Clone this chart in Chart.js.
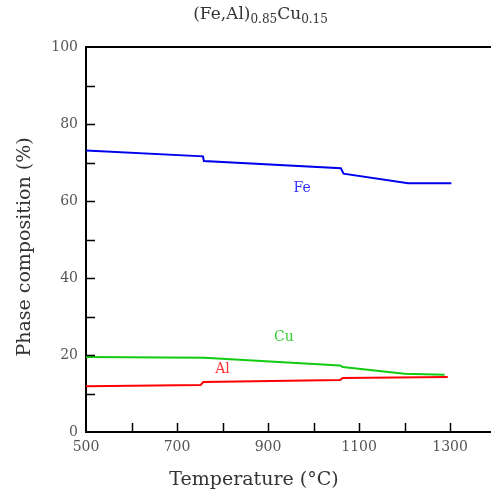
<!DOCTYPE html>
<html>
<head>
<meta charset="utf-8">
<script src="https://cdn.jsdelivr.net/npm/chart.js@4.4.0/dist/chart.umd.min.js"></script>
<style>
  html, body { margin: 0; padding: 0; background: #fff; }
  #wrap { position: relative; width: 491px; height: 492px; }
  #title {
    position: absolute; left: 0; top: 3px; width: 521px; text-align: center;
    font-family: "DejaVu Serif", serif; font-size: 17px; color: #333;
  }
  #title sub { font-size: 12px; vertical-align: -4px; }
  canvas { position: absolute; left: 0; top: 0; }
</style>
</head>
<body>
<div id="wrap">
  <canvas id="chart" width="491" height="492"></canvas>
  <div id="title">(Fe,Al)<sub>0.85</sub>Cu<sub>0.15</sub></div>
</div>
<script>
// Donnees (temperature en degC, composition en %)
const feTemps = [500, 757, 759, 1060, 1066, 1208, 1303];
const feValues = [73.1, 71.6, 70.4, 68.5, 67.1, 64.6, 64.6];

const cuTemps = [500, 760, 1058, 1064, 1200, 1288];
const cuValues = [19.5, 19.3, 17.3, 16.9, 15.1, 14.9];

const alTemps = [500, 752, 758, 1058, 1064, 1295];
const alValues = [11.9, 12.2, 13.0, 13.5, 14.0, 14.3];

const xTickLabels = [500, 700, 900, 1100, 1300];
const yTickLabels = [0, 20, 40, 60, 80, 100];

// etiquettes des courbes, en coordonnees de donnees
const seriesNames = ['Fe', 'Cu', 'Al'];
const labelTemps = [975, 935, 800];
const labelValues = [63.3, 24.6, 16.3];
const seriesColors = ['#0000ee', '#11cc11', '#ff0000'];
const labelColors = ['#3333ff', '#33cc33', '#ff3333'];

function toPoints(xs, ys) {
  return xs.map((x, i) => ({ x: x, y: ys[i] }));
}

const FONT = '"DejaVu Serif", serif';

// ticks vers l'interieur + cadre du haut + noms des courbes + titres d'axes
const decorPlugin = {
  id: 'decor',
  afterDraw(chart) {
    const c = chart.ctx;
    const xs = chart.scales.x, ys = chart.scales.y;
    const area = chart.chartArea;
    c.save();
    c.strokeStyle = '#000';
    c.lineWidth = 1.5;
    c.beginPath();
    for (let v = 600; v <= 1390; v += 100) {
      const px = Math.round(xs.getPixelForValue(v)) + 0.5;
      c.moveTo(px, area.bottom);
      c.lineTo(px, area.bottom - 9);
    }
    for (let v = 10; v < 100; v += 10) {
      const py = Math.round(ys.getPixelForValue(v)) + 0.5;
      c.moveTo(area.left, py);
      c.lineTo(area.left + 9, py);
    }
    c.stroke();
    c.lineWidth = 2;
    c.beginPath();
    c.moveTo(area.left, area.top);
    c.lineTo(area.right, area.top);
    c.stroke();

    c.font = '14px ' + FONT;
    c.textAlign = 'center';
    c.textBaseline = 'middle';
    seriesNames.forEach((name, i) => {
      c.fillStyle = labelColors[i];
      c.fillText(name, xs.getPixelForValue(labelTemps[i]), ys.getPixelForValue(labelValues[i]));
    });

    c.fillStyle = '#333';
    c.font = '19px ' + FONT;
    c.fillText('Temperature (\u00b0C)', 254, 480);
    c.translate(25, 247);
    c.rotate(-Math.PI / 2);
    c.fillText('Phase composition (%)', 0, 0);
    c.restore();
  }
};

new Chart(document.getElementById('chart'), {
  type: 'line',
  data: {
    datasets: [
      { label: 'Fe', data: toPoints(feTemps, feValues), borderColor: seriesColors[0] },
      { label: 'Cu', data: toPoints(cuTemps, cuValues), borderColor: seriesColors[1] },
      { label: 'Al', data: toPoints(alTemps, alValues), borderColor: seriesColors[2] }
    ]
  },
  options: {
    responsive: false,
    animation: false,
    layout: { padding: { top: 47, right: 0, left: 0, bottom: 0 } },
    elements: {
      line: { borderWidth: 2, tension: 0 },
      point: { radius: 0 }
    },
    plugins: {
      legend: { display: false },
      tooltip: { enabled: false }
    },
    scales: {
      x: {
        type: 'linear',
        min: 500,
        max: 1390,
        afterFit: s => { s.height = 60; },
        afterBuildTicks: s => { s.ticks = xTickLabels.map(v => ({ value: v })); },
        grid: { display: false, drawTicks: false },
        border: { display: true, color: '#000', width: 2 },
        ticks: {
          color: '#555',
          font: { family: FONT, size: 14 },
          padding: 7,
          maxRotation: 0,
          autoSkip: false,
          callback: v => String(v)
        }
      },
      y: {
        min: 0,
        max: 100,
        afterFit: s => { s.width = 86; },
        afterBuildTicks: s => { s.ticks = yTickLabels.map(v => ({ value: v })); },
        grid: { display: false, drawTicks: false },
        border: { display: true, color: '#000', width: 2 },
        ticks: {
          color: '#555',
          font: { family: FONT, size: 14 },
          padding: 8,
          callback: v => String(v)
        }
      }
    }
  },
  plugins: [decorPlugin]
});
</script>
</body>
</html>
